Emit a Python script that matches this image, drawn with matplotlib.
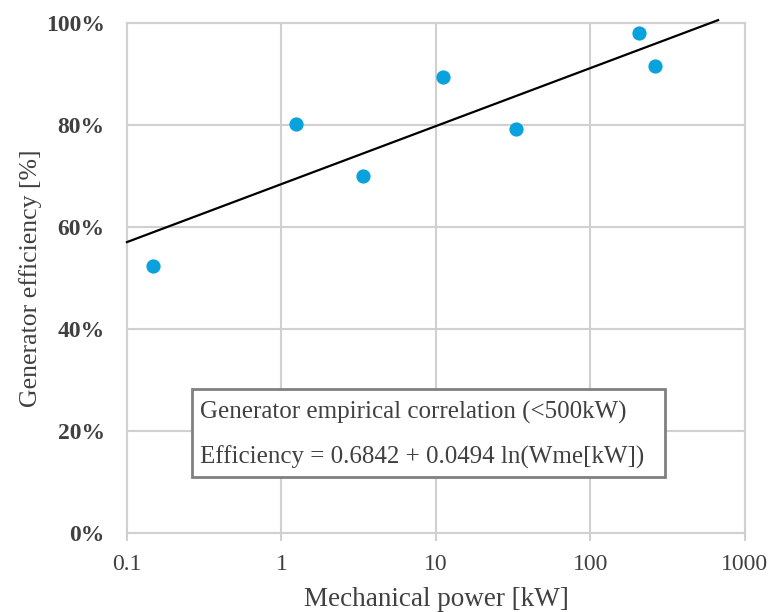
import numpy as np
import matplotlib.pyplot as plt
from matplotlib.patches import Rectangle

# measured generator data
power_kw = [0.147, 1.24, 3.37, 11.1, 33.0, 206, 261]
efficiency = [0.523, 0.802, 0.700, 0.894, 0.792, 0.980, 0.916]

# empirical fit: eff = a + b ln(W)
fit_a = 0.6842
fit_b = 0.0494
fit_range = [0.1, 670]

xticks = [0.1, 1, 10, 100, 1000]
xtick_labels = ['0.1', '1', '10', '100', '1000']
yticks = [0, 0.2, 0.4, 0.6, 0.8, 1.0]
ytick_labels = ['0%', '20%', '40%', '60%', '80%', '100%']

plt.rcParams['font.family'] = ['Liberation Serif', 'DejaVu Serif']

fig = plt.figure(figsize=(7.74, 6.12), dpi=100)
ax = fig.add_axes([0.164, 0.129, 0.7985, 0.8334])

grid_c = '#d0d0d0'
txt_c = '#404040'

ax.set_xscale('log')
ax.set_xlim(0.1, 1000)
ax.set_ylim(0, 1)
ax.set_xticks(xticks)
ax.set_xticklabels(xtick_labels)
ax.set_yticks(yticks)
ax.set_yticklabels(ytick_labels, fontweight='bold')
ax.minorticks_off()
ax.grid(True, color=grid_c, linewidth=1.5)
ax.set_axisbelow(True)
for s in ax.spines.values():
    s.set_color(grid_c)
    s.set_linewidth(1.5)
ax.tick_params(axis='both', colors=grid_c, labelcolor=txt_c, labelsize=17,
               width=1.5)
ax.tick_params(axis='x', length=6, pad=9)
ax.tick_params(axis='y', length=0, pad=16)

xs = np.logspace(np.log10(fit_range[0]), np.log10(fit_range[1]), 100)
ax.plot(xs, fit_a + fit_b * np.log(xs), color='black', linewidth=1.6,
        clip_on=False, zorder=3)
ax.scatter(power_kw, efficiency, s=105, color='#0AA2DD', zorder=4,
           clip_on=False, linewidths=0)

ax.set_xlabel('Mechanical power [kW]', fontsize=19.5, color=txt_c, labelpad=9)
ax.set_ylabel('Generator efficiency [%]', fontsize=18.5, color=txt_c, labelpad=3)

ax.add_patch(Rectangle((0.105, 0.110), 0.766, 0.172, transform=ax.transAxes,
                       facecolor='white', edgecolor='#808080', linewidth=2,
                       zorder=5))
ax.text(0.118, 0.237, 'Generator empirical correlation (<500kW)',
        transform=ax.transAxes, fontsize=18, color=txt_c, va='center', zorder=6)
ax.text(0.118, 0.149, 'Efficiency = 0.6842 + 0.0494 ln(Wme[kW])',
        transform=ax.transAxes, fontsize=18, color=txt_c, va='center', zorder=6)

fig.savefig('out.png', dpi=100)
